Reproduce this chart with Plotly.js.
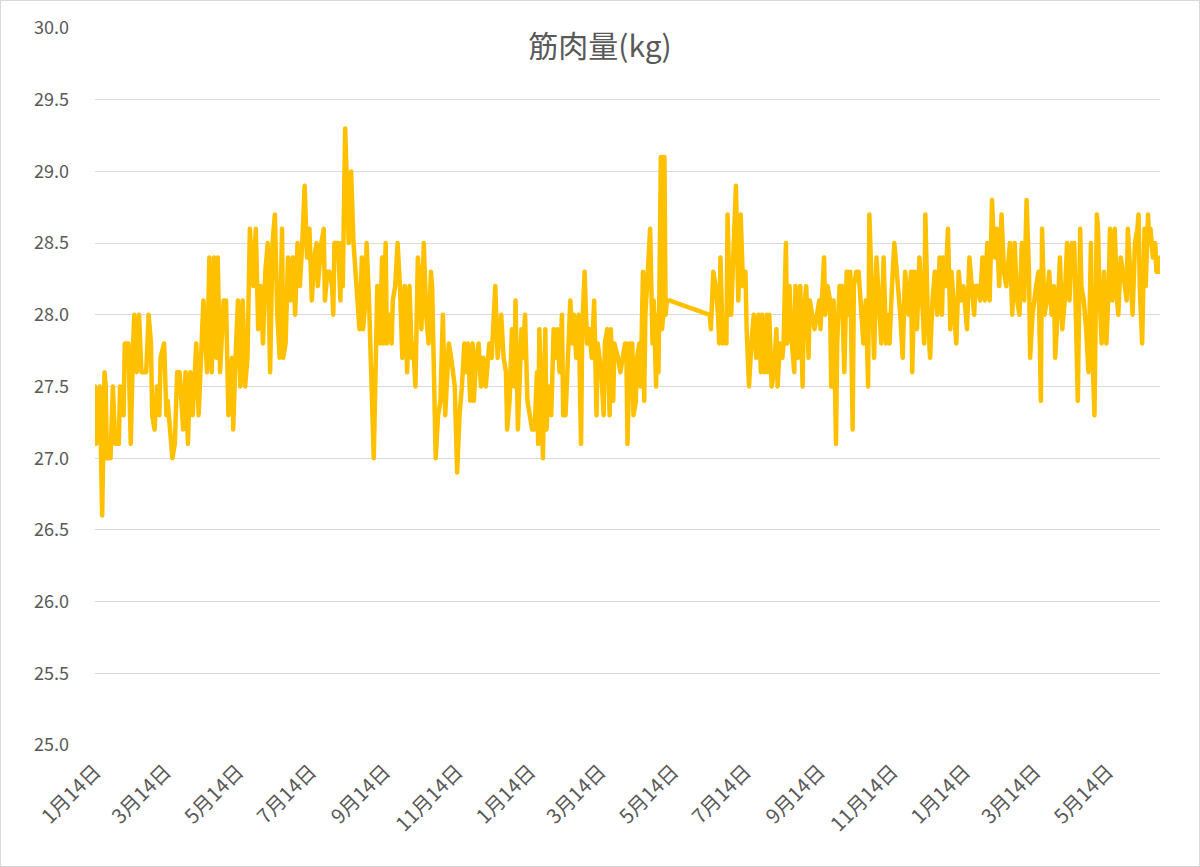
<!DOCTYPE html>
<html>
<head>
<meta charset="utf-8">
<script src="https://cdn.plot.ly/plotly-3.0.1.min.js"></script>
<style>
  body { margin: 0; background: #fff; }
  #chart { width: 1198px; height: 865px; border: 1px solid #d9d9d9; }
  path.js-line { stroke-linejoin: round !important; stroke-linecap: round !important; }
</style>
</head>
<body>
<div id="chart"></div>
<script>
// days since the first measurement (1月14日)
var days = [
  0,1,4,5,6,8,9,10,13,15,17,20,21,24,25,28,30,32,33,35,37,39,41,43,45,47,48,50,52,54,55,58,60,61,63,65,67,69,71,74,76,78,80,82,85,87,89,91,94,96,98,100,102,103,105,108,110,
  112,115,116,118,120,122,124,126,128,130,133,135,137,139,141,143,145,147,149,151,153,155,157,158,160,162,164,166,168,170,172,174,176,178,180,182,184,186,187,190,192,193,195,197,199,200,201,204,206,207,208,210,213,215,217,222,
  224,225,227,228,230,234,236,237,239,241,242,244,245,247,249,250,252,254,256,258,260,262,264,266,267,269,271,272,274,276,278,280,282,283,286,288,290,292,294,297,299,302,304,306,308,310,311,313,315,317,318,320,322,324,326,328,331,333,336,
  338,341,343,345,346,348,350,352,353,355,357,358,359,361,363,365,367,369,371,372,373,375,376,378,379,381,383,385,387,388,390,392,393,395,397,399,401,402,404,406,408,409,411,413,415,417,419,421,422,425,427,428,430,432,433,435,436,439,441,443,445,446,447,449,
  451,452,454,455,457,458,460,461,462,464,466,468,469,471,472,473,475,476,477,478,479,480,482,
  516,517,519,521,523,524,525,527,529,530,531,533,534,536,538,540,542,544,546,547,549,551,553,555,557,559,560,562,
  564,565,566,568,570,572,573,575,577,578,580,581,583,585,587,588,590,592,594,595,597,599,600,602,604,606,608,609,612,613,615,617,618,620,622,623,625,627,629,631,632,634,636,637,639,641,643,645,647,649,650,652,654,656,658,660,662,664,665,667,669,671,674,676,
  678,680,683,685,686,688,690,692,695,696,697,699,701,703,705,707,709,711,712,714,716,718,719,721,723,725,727,729,732,734,736,738,739,741,743,745,747,749,751,753,755,757,759,761,763,765,767,768,770,772,774,776,778,780,782,784,785,
  787,790,792,794,795,797,799,801,803,805,806,808,810,812,814,816,818,820,821,822,824,825,827,828,830,832,834,836,837,839,841,842,843,845,847,849,851,852,854,856,858,859,861,863,866,867,869,871,873,875,876,877,879,881,882,884,885,886,888,890,891,893,894
];

var muscle = [
  27.5,27.1,27.5,27.1,26.6,27.6,27.5,27.0,27.0,27.5,27.1,27.1,27.5,27.3,27.8,27.8,27.1,27.8,28.0,27.6,28.0,27.6,27.6,27.6,28.0,27.8,27.3,27.2,27.5,27.3,27.7,27.8,27.3,27.4,27.2,27.0,27.1,27.6,27.6,27.2,27.6,27.1,27.6,27.3,27.8,27.3,27.7,28.1,27.6,28.4,27.6,28.4,27.7,28.4,27.6,28.1,28.1,
  27.3,27.7,27.2,27.7,28.1,27.5,28.1,27.5,27.7,28.6,28.2,28.6,27.9,28.2,27.8,28.3,28.5,27.6,28.5,28.7,28.0,27.7,28.6,27.7,27.8,28.4,28.1,28.4,28.0,28.5,28.2,28.5,28.9,28.4,28.6,28.1,28.4,28.5,28.2,28.5,28.6,28.1,28.3,28.3,28.2,28.0,28.5,28.5,28.1,28.5,28.2,29.3,28.5,29.0,28.5,27.9,
  28.4,27.9,28.1,28.5,28.1,27.0,27.8,28.2,27.8,28.4,27.8,28.5,27.8,28.0,27.8,28.1,28.2,28.5,28.2,27.7,28.2,27.6,28.2,27.7,27.8,27.5,28.4,28.3,27.9,28.5,28.0,27.8,28.3,28.2,27.0,27.3,27.4,28.0,27.3,27.8,27.7,27.5,26.9,27.3,27.5,27.8,27.6,27.8,27.4,27.8,27.4,27.7,27.8,27.5,27.7,27.5,27.8,27.7,28.2,
  27.7,28.0,27.7,27.6,27.2,27.4,27.9,27.5,28.1,27.2,27.8,27.9,27.7,28.0,27.4,27.3,27.2,27.2,27.6,27.1,27.9,27.3,27.0,27.9,27.2,27.5,27.3,27.9,27.7,27.9,27.6,28.0,27.3,27.3,27.8,28.1,27.8,28.0,27.7,28.0,27.1,27.9,28.3,27.8,27.9,27.7,28.1,27.3,27.8,27.6,27.3,27.8,27.9,27.3,27.9,27.4,27.8,27.7,27.6,27.7,27.8,27.8,27.1,27.8,
  27.8,27.3,27.4,27.7,27.8,27.5,28.3,27.4,28.0,28.3,28.6,27.8,28.1,27.5,28.0,27.6,29.1,27.9,28.0,29.1,28.0,28.1,28.1,
  28.0,27.9,28.3,28.2,28.0,27.8,28.4,27.8,27.9,27.8,28.7,28.0,28.0,28.4,28.9,28.1,28.7,28.2,28.3,27.9,27.5,27.8,28.0,27.7,28.0,27.6,28.0,27.6,
  28.0,27.6,28.0,27.5,27.6,27.9,27.5,27.8,27.7,27.8,28.5,27.8,28.2,27.8,27.6,28.2,27.7,28.2,27.5,28.0,28.2,27.7,28.1,28.0,27.9,28.0,28.1,27.9,28.4,28.0,28.2,28.1,27.5,28.1,27.1,27.8,28.2,28.2,27.6,28.3,28.0,28.3,27.2,28.2,28.3,28.3,28.0,27.8,28.1,27.5,28.7,28.2,27.7,28.4,28.1,27.8,28.4,27.8,28.0,27.8,28.2,28.5,28.2,28.0,
  27.7,28.3,28.0,28.3,27.6,28.3,27.9,28.4,28.0,27.8,28.7,28.0,27.7,28.1,28.3,28.0,28.4,28.0,28.4,28.2,28.6,27.9,28.3,28.0,27.8,28.3,28.1,28.2,27.9,28.4,28.2,28.0,28.2,28.2,28.1,28.4,28.1,28.5,28.1,28.8,28.4,28.6,28.2,28.7,28.3,28.2,28.4,28.5,28.0,28.5,28.1,28.0,28.5,28.1,28.8,28.3,27.7,
  28.0,28.2,28.3,27.4,28.6,28.0,28.1,28.3,28.0,28.2,27.7,28.0,28.4,27.9,28.1,28.5,28.1,28.5,28.3,28.5,27.9,27.4,28.6,28.2,28.1,27.9,27.6,28.5,27.8,27.3,28.7,28.6,28.2,27.8,28.3,27.8,28.2,28.6,28.1,28.6,28.1,28.0,28.4,28.3,28.1,28.6,28.3,28.0,28.5,28.6,28.7,28.2,27.8,28.6,28.2,28.7,28.5,28.6,28.4,28.5,28.3,28.3,28.4
];

var tickDates = ['2021-01-14','2021-03-14','2021-05-14','2021-07-14','2021-09-14','2021-11-14',
                 '2022-01-14','2022-03-14','2022-05-14','2022-07-14','2022-09-14','2022-11-14',
                 '2023-01-14','2023-03-14','2023-05-14'];
var tickLabels = ['1月14日','3月14日','5月14日','7月14日','9月14日','11月14日',
                  '1月14日','3月14日','5月14日','7月14日','9月14日','11月14日',
                  '1月14日','3月14日','5月14日'];

var startMs = Date.UTC(2021, 0, 14);
var dates = days.map(function(d){
    return new Date(startMs + d * 86400000).toISOString().slice(0, 10);
});

var trace1 = {
    x: dates,
    y: muscle,
    type: 'scatter',
    mode: 'lines',
    name: '筋肉量(kg)',
    line: {color: '#FFC000', width: 4.5}
};

var font = '"Noto Sans CJK JP", "Noto Sans", sans-serif';

var layout = {
    width: 1198,
    height: 865,
    margin: {l: 94, r: 39, t: 27, b: 121},
    paper_bgcolor: '#ffffff',
    plot_bgcolor: '#ffffff',
    showlegend: false,
    font: {family: font, color: '#595959', size: 17},
    title: {
        text: '筋肉量(kg)',
        font: {family: font, size: 30, color: '#595959'},
        x: 0.5, xref: 'container',
        y: 0.947, yref: 'container', yanchor: 'middle'
    },
    xaxis: {
        type: 'date',
        range: ['2021-01-14', '2023-06-27'],
        tickmode: 'array',
        tickvals: tickDates,
        ticktext: tickLabels,
        tickangle: -45,
        showgrid: false,
        zeroline: false,
        showline: false,
        ticks: '',
        ticklabelstandoff: 10,
        tickfont: {family: font, size: 20, color: '#595959'}
    },
    yaxis: {
        range: [25, 30],
        dtick: 0.5,
        tickformat: '.1f',
        showgrid: true,
        gridcolor: '#d9d9d9',
        gridwidth: 1,
        zeroline: false,
        showline: false,
        ticks: '',
        ticklabelstandoff: 25,
        tickfont: {family: font, size: 18, color: '#595959'}
    }
};

var additional_param = {
    displayModeBar: false,
    displaylogo: false
};

Plotly.newPlot('chart', [trace1], layout, additional_param);
</script>
</body>
</html>
